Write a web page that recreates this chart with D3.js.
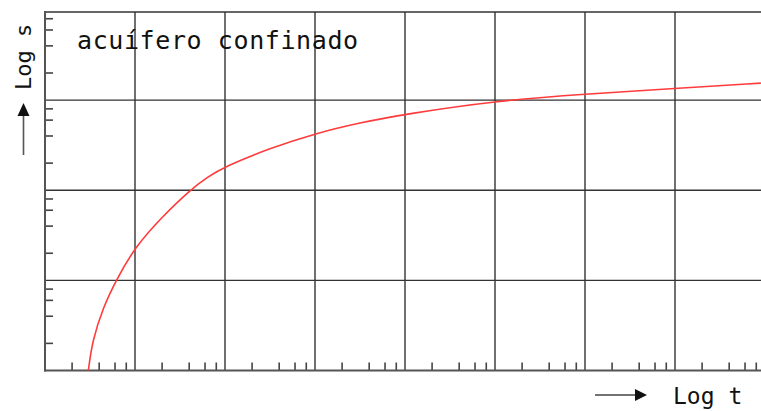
<!DOCTYPE html>
<html>
<head>
<meta charset="utf-8">
<script src="https://cdn.jsdelivr.net/npm/d3@7"></script>
<style>
  body { margin: 0; background: #fff; }
  text { font-family: "DejaVu Sans Mono", "Liberation Mono", monospace; fill: #111; }
</style>
</head>
<body>
<div id="chart"></div>
<script>
// drawdown curve (log t, log s)
const tValues = [3.03, 3.36, 4.44, 6.15, 10, 20.5, 40.8, 63.1, 100, 316, 1000, 3162, 1e4, 1e5, 1e6, 1e7, 9e7];
const sValues = [1.0, 2.15, 5.05, 10, 23.5, 52, 100, 139, 183, 293, 426, 562, 699, 982, 1166, 1350, 1545];

const xMajor = [1e1, 1e2, 1e3, 1e4, 1e5, 1e6, 1e7];
const yMajor = [1e1, 1e2, 1e3];
const minorSteps = [2, 4, 6, 8];
const xDecadeStarts = [1, 1e1, 1e2, 1e3, 1e4, 1e5, 1e6, 1e7];
const yDecadeStarts = [1, 1e1, 1e2, 1e3];

const title = "acuífero confinado";
const xLabel = "Log t";
const yLabel = "Log s";

const width = 761;
const height = 411;
const margin = { left: 45, top: 12, right: -4, bottom: 40.5 };

const svg = d3.select("#chart")
  .append("svg")
  .attr("width", width)
  .attr("height", height);

const x = d3.scaleLog().domain([1, 1e8]).range([margin.left, width - margin.right]);
const y = d3.scaleLog().domain([1, 9500]).range([height - margin.bottom, margin.top]);

const x0 = x.range()[0], x1 = x.range()[1];
const y0 = y.range()[0], y1 = y.range()[1];

// grid
const grid = svg.append("g").attr("stroke", "#333").attr("stroke-width", 1.4);
grid.selectAll(".vx")
  .data(xMajor)
  .enter()
  .append("line")
  .attr("x1", (d) => x(d)).attr("x2", (d) => x(d))
  .attr("y1", y1).attr("y2", y0);
grid.selectAll(".hy")
  .data(yMajor)
  .enter()
  .append("line")
  .attr("x1", x0).attr("x2", x1)
  .attr("y1", (d) => y(d)).attr("y2", (d) => y(d));
grid.append("line")
  .attr("x1", x0).attr("x2", x1)
  .attr("y1", y1).attr("y2", y1);

// minor ticks
const xMinor = xDecadeStarts.flatMap((d) => minorSteps.map((m) => d * m));
const yMinor = yDecadeStarts.flatMap((d) => minorSteps.map((m) => d * m)).filter((d) => d < 9500);
const ticks = svg.append("g").attr("stroke", "#444").attr("stroke-width", 1.6);
ticks.selectAll(".tx")
  .data(xMinor)
  .enter()
  .append("line")
  .attr("x1", (d) => x(d)).attr("x2", (d) => x(d))
  .attr("y1", y0).attr("y2", y0 - 8);
ticks.selectAll(".ty")
  .data(yMinor)
  .enter()
  .append("line")
  .attr("x1", x0).attr("x2", x0 + 8)
  .attr("y1", (d) => y(d)).attr("y2", (d) => y(d));

// axes
const axes = svg.append("g").attr("stroke", "#555").attr("stroke-width", 2);
axes.append("line").attr("x1", x0).attr("x2", x0).attr("y1", y1 - 1).attr("y2", y0 + 1);
axes.append("line").attr("x1", x0 - 1).attr("x2", x1).attr("y1", y0).attr("y2", y0);

// curve
const pts = tValues.map((t, i) => [x(t), y(sValues[i])]);
svg.append("path")
  .datum(pts)
  .attr("fill", "none")
  .attr("stroke", "#ff3b3b")
  .attr("stroke-width", 1.6)
  .attr("d", d3.line().curve(d3.curveBasis));

// labels
svg.append("text")
  .attr("x", 77)
  .attr("y", 49)
  .attr("font-size", 25)
  .attr("letter-spacing", 0.6)
  .text(title);

svg.append("text")
  .attr("x", 673)
  .attr("y", 404)
  .attr("font-size", 23)
  .text(xLabel);

svg.append("text")
  .attr("transform", "translate(31, 90) rotate(-90)")
  .attr("font-size", 22)
  .text(yLabel);

// arrows
const arrows = svg.append("g");
arrows.append("line")
  .attr("x1", 595).attr("x2", 638).attr("y1", 395).attr("y2", 395)
  .attr("stroke", "#444").attr("stroke-width", 1.6);
arrows.append("path")
  .attr("d", "M635,389 L647,395 L635,401 Z")
  .attr("fill", "#111");
arrows.append("line")
  .attr("x1", 23.5).attr("x2", 23.5).attr("y1", 155).attr("y2", 114)
  .attr("stroke", "#555").attr("stroke-width", 1.6);
arrows.append("path")
  .attr("d", "M17.5,116 L23.5,103 L29.5,116 Z")
  .attr("fill", "#111");
</script>
</body>
</html>
